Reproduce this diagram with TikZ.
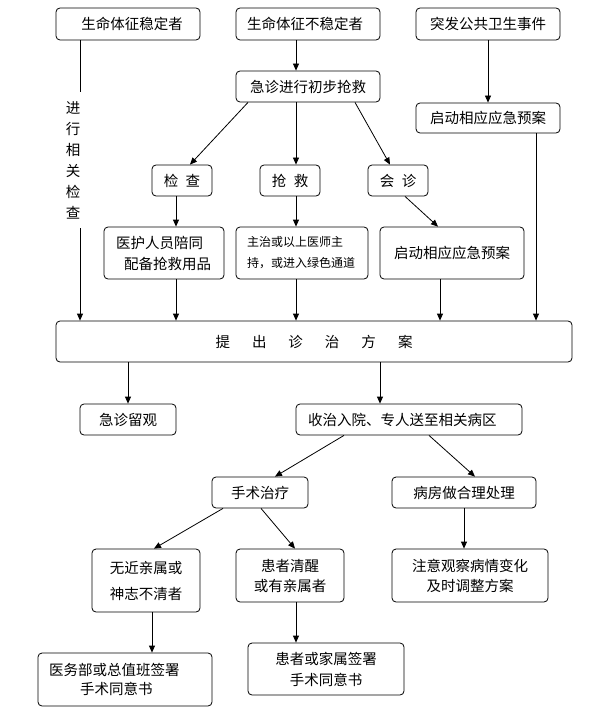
\documentclass[tikz,border=0pt]{standalone}
\usepackage{fontspec}
\setmainfont{Noto Sans CJK SC}
\usetikzlibrary{arrows.meta}
\begin{document}
\begin{tikzpicture}[x=1pt,y=-1pt,
  box/.style={draw, rounded corners=4pt, line width=0.8pt, inner sep=0pt, align=center,
    font=\fontsize{14.5}{21}\selectfont},
  lbox/.style={box, align=left},
  ln/.style={line width=0.8pt},
  arr/.style={line width=0.8pt, -{Triangle[length=7pt,width=6pt]}},
  vtxt/.style={inner sep=0pt, align=center, font=\fontsize{14.5}{21}\selectfont}]
\useasboundingbox (0,0) rectangle (597,714);
% column coordinates
\foreach \n in {80,128,152,154,176,190,223,248,261,275,295,296,344,355,380,390,405,429,438,440,464,475,536}
  {\coordinate (X\n) at (\n,0);}
% top row
\node[box, minimum width=144, minimum height=32] (stable) at (128,24) {\hspace*{8pt}生命体征稳定者};
\node[box, minimum width=144, minimum height=32] (unstable) at (308,24) {生命体征不稳定者\hspace*{6pt}};
\node[box, minimum width=144, minimum height=32] (event) at (488,24) {突发公共卫生事件};
\node[box, minimum width=144, minimum height=31] (rescue) at (308,86.5) {急诊进行初步抢救};
\node[box, minimum width=144, minimum height=30] (plana) at (488,118) {启动相应应急预案};
\node[box, minimum width=60, minimum height=31] (check) at (182,180.5) {检\hspace{7.5pt}查};
\node[box, minimum width=60, minimum height=31] (qj) at (290,180.5) {抢\hspace{7.5pt}救};
\node[box, minimum width=60, minimum height=31] (hz) at (398,180.5) {会\hspace{7.5pt}诊};
\node[lbox, text width=120pt, minimum height=52] (escort) at (164,253)
  {\hspace*{12pt}医护人员陪同\\\hspace*{20pt}配备抢救用品};
\node[lbox, text width=132pt, minimum height=52, font=\fontsize{12}{21}\selectfont] (chief) at (302,253)
  {\hspace*{11pt}主治或以上医师主\\\hspace*{11pt}持，或进入绿色通道};
\node[box, minimum width=144, minimum height=52] (planb) at (452,253) {启动相应应急预案};
% vertical text
\node[vtxt] (vt) at (73,160) {进\\行\\相\\关\\检\\查};
\coordinate (v1) at (80,92);
\coordinate (v2) at (80,228);
% scheme
\node[box, minimum width=516, minimum height=41] (scheme) at (314,341.5)
  {提\hspace{22pt}出\hspace{22pt}诊\hspace{22pt}治\hspace{22pt}方\hspace{22pt}案};
\node[box, minimum width=96, minimum height=31] (observe) at (128,419.5) {急诊留观};
\node[lbox, text width=226pt, minimum height=31] (admit) at (409,419.5) {\hspace*{12pt}收治入院、专人送至相关病区};
\node[box, minimum width=96, minimum height=31] (surgery) at (260,492.5) {手术治疗};
\node[box, minimum width=144, minimum height=31] (ward) at (464,492.5) {病房做合理处理};
\node[box, minimum width=108, minimum height=63, font=\fontsize{14.5}{26}\selectfont] (nokin) at (146,580.5)
  {无近亲属或\\神志不清者};
\node[box, minimum width=108, minimum height=53, font=\fontsize{14.5}{20}\selectfont] (awake) at (290,575.5)
  {患者清醒\\或有亲属者};
\node[box, minimum width=156, minimum height=53, font=\fontsize{14.5}{20}\selectfont] (watch) at (470,575.5)
  {注意观察病情变化\\及时调整方案};
\node[lbox, text width=174pt, minimum height=53, font=\fontsize{14.5}{19}\selectfont] (signa) at (125,679.5)
  {\hspace*{11pt}医务部或总值班签署\\\hspace*{42pt}手术同意书};
\node[box, minimum width=156, minimum height=52] (signb) at (326,669)
  {患者或家属签署\\手术同意书};
% connectors
\draw[ln] (stable.south -| v1) -- (v1);
\draw[arr] (v2) -- (v2 |- scheme.north);
\draw[arr] (unstable.south -| X296) -- (rescue.north -| X296);
\draw[arr] (event) -- (plana);
\draw[arr] (rescue.south -| X248) -- (check.north -| X190);
\draw[arr] (rescue.south -| X296) -- (qj.north -| X296);
\draw[arr] (rescue.south -| X355) -- (hz.north -| X390);
\draw[arr] (check.south -| X176) -- (escort.north -| X176);
\draw[arr] (qj.south -| X296) -- (chief.north -| X296);
\draw[arr] (hz.south -| X405) -- (planb.north -| X438);
\draw[arr] (escort.south -| X176) -- (scheme.north -| X176);
\draw[arr] (chief.south -| X296) -- (scheme.north -| X296);
\draw[arr] (planb.south -| X440) -- (scheme.north -| X440);
\draw[arr] (plana.south -| X536) -- (scheme.north -| X536);
\draw[arr] (scheme.south -| X128) -- (observe.north -| X128);
\draw[arr] (scheme.south -| X380) -- (admit.north -| X380);
\draw[arr] (admit.south -| X344) -- (surgery.north -| X275);
\draw[arr] (admit.south -| X429) -- (ward.north -| X475);
\draw[arr] (surgery.south -| X223) -- (nokin.north -| X154);
\draw[arr] (surgery.south -| X261) -- (awake.north -| X295);
\draw[arr] (ward.south -| X464) -- (watch.north -| X464);
\draw[arr] (nokin.south -| X152) -- (signa.north -| X152);
\draw[arr] (awake.south -| X296) -- (signb.north -| X296);
\end{tikzpicture}
\end{document}
